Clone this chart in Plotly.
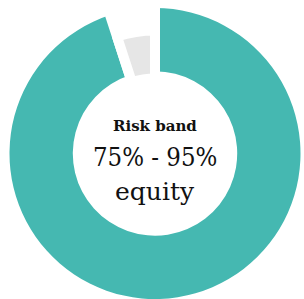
import plotly.graph_objects as go

labels = ["Equity", "Other"]
values = [95, 5]
title_text = "Risk band"
band_text = "75% - 95%"
asset_text = "equity"

W, H = 304, 299
TEAL = "#45b8b1"
GRAY = "#e6e6e6"
CLEAR = "rgba(0,0,0,0)"

fig = go.Figure()

# main teal ring (gap lines drawn by the transparent slice's white outline)
fig.add_trace(go.Pie(
    labels=labels, values=values, sort=False, direction="clockwise",
    hole=0.565,
    marker=dict(colors=[TEAL, CLEAR], line=dict(color="white", width=[0, 10])),
    textinfo="none", hoverinfo="skip", showlegend=False,
    domain=dict(x=[8 / W, 302 / W], y=[0, 1 - 8 / H]),
))

# smaller grey slice
fig.add_trace(go.Pie(
    labels=labels, values=values, sort=False, direction="clockwise",
    hole=0.61,
    marker=dict(colors=[CLEAR, GRAY], line=dict(color="white", width=[0, 10])),
    textinfo="none", hoverinfo="skip", showlegend=False,
    domain=dict(x=[(155 - 123) / W, (155 + 123) / W],
                y=[1 - (153.5 + 123) / H, 1 - (153.5 - 123) / H]),
))

fig.add_annotation(text="<b>" + title_text + "</b>", x=155 / W, y=1 - 125.5 / H,
                   xref="paper", yref="paper", showarrow=False,
                   font=dict(family="DejaVu Serif", size=15, color="#111111"))
fig.add_annotation(text=band_text, x=155 / W, y=1 - 157 / H,
                   xref="paper", yref="paper", showarrow=False,
                   font=dict(family="DejaVu Serif Condensed, Liberation Serif", size=25.5, color="#111111"))
fig.add_annotation(text=asset_text, x=155 / W, y=1 - 191 / H,
                   xref="paper", yref="paper", showarrow=False,
                   font=dict(family="DejaVu Serif", size=25, color="#111111"))

fig.update_layout(width=W, height=H, margin=dict(l=0, r=0, t=0, b=0),
                  paper_bgcolor="white", plot_bgcolor="white")
fig.write_html("out.html",
               config={"displayModeBar": False, "staticPlot": True},
               post_script="document.body.style.margin='0';"
                           "document.documentElement.style.overflow='hidden';")
